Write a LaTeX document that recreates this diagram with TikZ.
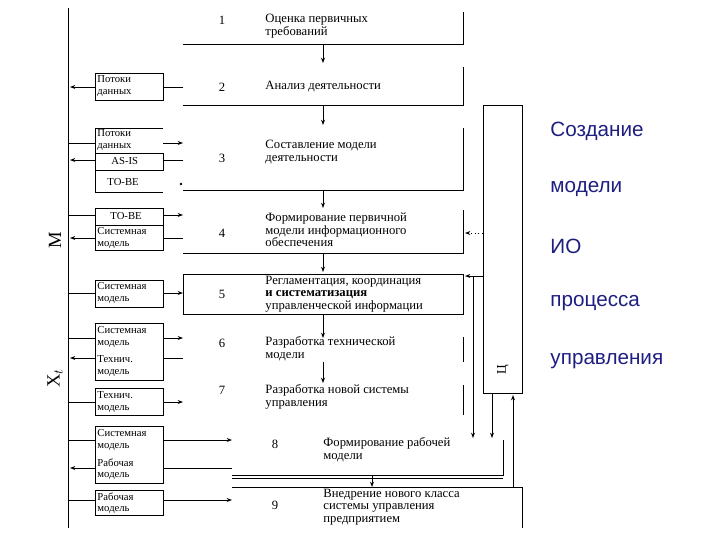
\documentclass[tikz,border=0pt]{standalone}
\usepackage{fontspec}
\setmainfont{Liberation Serif}
\newfontfamily\sans{Liberation Sans}
\usetikzlibrary{arrows.meta}
\definecolor{navy}{RGB}{30,30,130}
\begin{document}
\begin{tikzpicture}[x=0.75pt,y=-0.75pt,line width=0.7pt,
  lab/.style={font=\fontsize{9.5}{9.5}\selectfont,align=left,anchor=west,inner sep=0},
  num/.style={font=\fontsize{9.5}{10}\selectfont,inner sep=0},
  sm/.style={font=\fontsize{8}{8.5}\selectfont,align=left,inner sep=0,anchor=west},
  ar/.style={-{Stealth[length=4pt,width=3pt]}},
  big/.style={font=\sans\fontsize{15.5}{17}\selectfont,text=navy,anchor=west,inner sep=0}]
\useasboundingbox (0,0) rectangle (720,540);
% main left line
\draw (68,8) -- (68,528);
\node[rotate=90,font=\fontsize{14}{14}\selectfont] (M) at (55,240) {М};
\node[rotate=90,font=\fontsize{14}{14}\selectfont] (X) at (55,378) {Х$_t$};
% process boxes
\draw (463,12) -- (463,44) -- (183,44);
\draw (463,67) -- (463,105) -- (183,105);
\draw (463,128) -- (463,190) -- (183,190);
\draw (463,210) -- (463,253) -- (183,253);
\draw (183,274) rectangle (463,314);
\draw (463,337) -- (463,362);
\draw (463,385) -- (463,415);
\draw (503,440) -- (503,475) -- (232,475);
\draw (232,478) -- (503,478);
\draw (232,487) -- (522,487) -- (522,528);
\node[num] (n1) at (222,20) {1};
\node[num] (n2) at (222,87) {2};
\node[num] (n3) at (222,158) {3};
\node[num] (n4) at (222,233) {4};
\node[num] (n5) at (222,294) {5};
\node[num] (n6) at (222,343) {6};
\node[num] (n7) at (222,390) {7};
\node[num] (n8) at (275,444) {8};
\node[num] (n9) at (275,505) {9};
\node[lab] (t1) at (265,26) {Оценка первичных\\требований};
\node[lab] (t2) at (265,87) {Анализ деятельности};
\node[lab] (t3) at (265,152) {Составление модели\\деятельности};
\node[lab] (t4) at (265,230) {Формирование первичной\\модели информационного\\обеспечения};
\node[lab] (t5) at (265,294) {Регламентация, координация\\\textbf{и систематизация}\\управленческой информации};
\node[lab] (t6) at (265,349) {Разработка технической\\модели};
\node[lab] (t7) at (265,397) {Разработка новой системы\\управления};
\node[lab] (t8) at (323,450) {Формирование рабочей\\модели};
\node[lab] (t9) at (323,507) {Внедрение нового класса\\системы управления\\предприятием};
% vertical arrows
\foreach \x/\a/\b in {323/44/63,323/105/125,323/190/208,323/253/272,323/314/338,323/362/383,372/475/487}
  \draw[ar] (\x,\a) -- (\x,\b);
% tall box
\draw (483,105) rectangle (522,393);
\node[rotate=90,font=\fontsize{10}{10}\selectfont] (C) at (503,370) {Ц};
\draw[ar,dotted] (483,233) -- (465,233);
\draw[ar] (483,276) -- (465,276);
\draw[ar] (473,276) -- (473,438);
\draw[ar] (492,393) -- (492,438);
\draw[ar] (513,487) -- (513,395);
% small boxes
\draw (95,73) rectangle (163,100);
\node[sm] (s1) at (97,86) {Потоки\\данных};
\draw (183,87) -- (163,87); \draw[ar] (95,87) -- (70,87);
\draw (163,128) -- (95,128) -- (95,192) -- (163,192);
\draw (95,153) rectangle (163,170);
\node[sm] (s2) at (97,140) {Потоки\\данных};
\node[sm] (s3) at (111,161) {AS-IS};
\node[sm] (s4) at (107,182) {TO-BE};
\draw (68,143) -- (95,143); \draw[ar] (163,143) -- (183,143);
\draw (183,160) -- (163,160); \draw[ar] (95,160) -- (70,160);
\fill (181,184) circle (1pt);
\draw (95,208) rectangle (163,250); \draw (95,225) -- (163,225);
\node[sm] (s5) at (110,216) {TO-BE};
\node[sm] (s6) at (97,238) {Системная\\модель};
\draw (68,215) -- (95,215); \draw[ar] (163,215) -- (183,215);
\draw (183,238) -- (163,238); \draw[ar] (95,238) -- (70,238);
\draw (163,280) -- (95,280) -- (95,307) -- (163,307) -- (163,280);
\node[sm] (s7) at (97,293) {Системная\\модель};
\draw (68,293) -- (95,293); \draw[ar] (163,293) -- (183,293);
\draw (95,323) rectangle (163,380);
\node[sm] (s8) at (97,337) {Системная\\модель};
\node[sm] (s9) at (97,366) {Технич.\\модель};
\draw (68,338) -- (95,338); \draw[ar] (163,338) -- (183,338);
\draw (183,358) -- (163,358); \draw[ar] (95,358) -- (70,358);
\draw (95,388) rectangle (163,415);
\node[sm] (s10) at (97,402) {Технич.\\модель};
\draw (68,402) -- (95,402); \draw[ar] (163,402) -- (183,402);
\draw (95,426) rectangle (163,483);
\node[sm] (s11) at (97,440) {Системная\\модель};
\node[sm] (s12) at (97,469) {Рабочая\\модель};
\draw (68,440) -- (95,440); \draw[ar] (163,440) -- (232,440);
\draw (232,468) -- (163,468); \draw[ar] (95,468) -- (70,468);
\draw (95,490) rectangle (163,515);
\node[sm] (s13) at (97,503) {Рабочая\\модель};
\draw (68,500) -- (95,500); \draw[ar] (163,500) -- (232,500);
% right text
\node[big] (r1) at (550,131) {Создание};
\node[big] (r2) at (550,189) {модели};
\node[big] (r3) at (550,246) {ИО};
\node[big] (r4) at (550,303) {процесса};
\node[big] (r5) at (550,361) {управления};
\end{tikzpicture}
\end{document}
